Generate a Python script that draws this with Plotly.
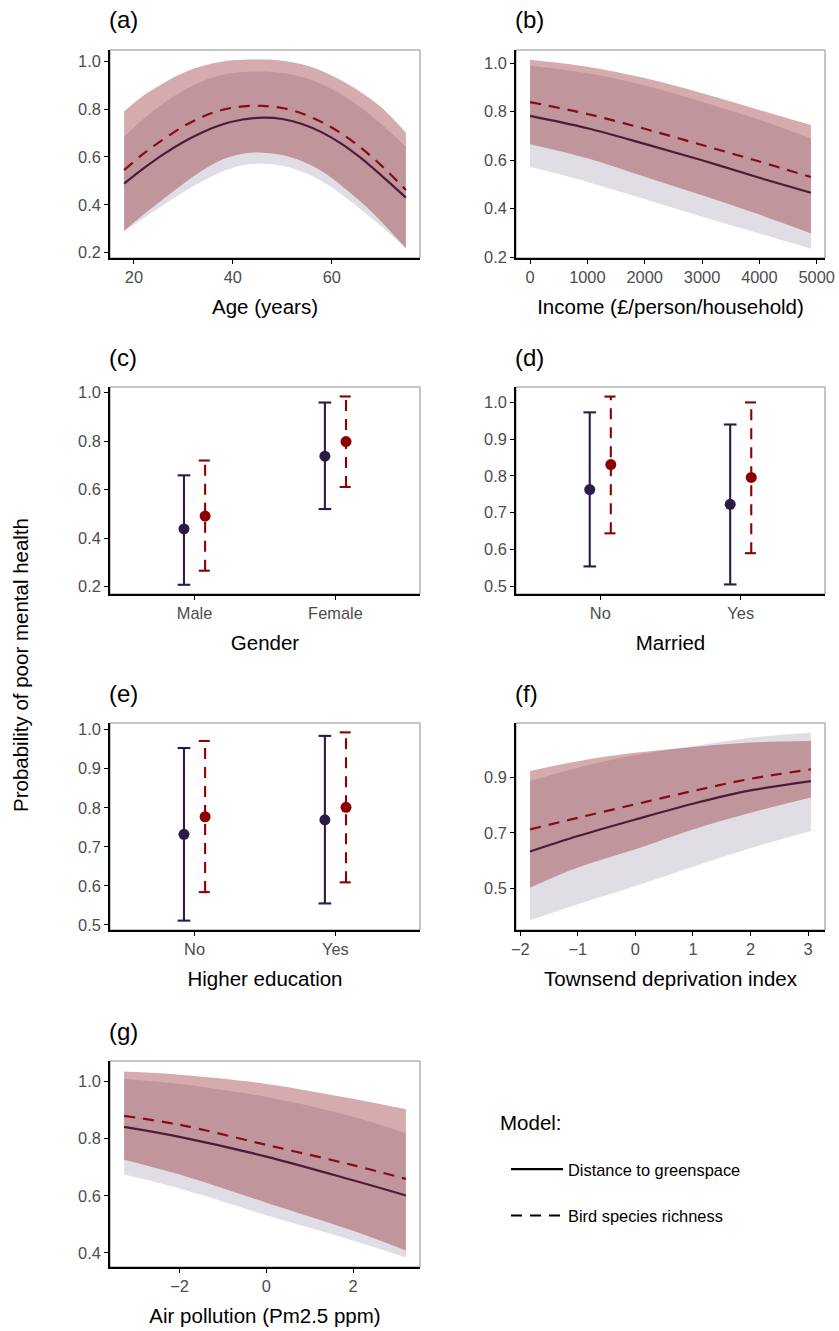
import plotly.graph_objects as go

# ---------------- data ----------------
# (a) Age
age = [18, 22, 26, 30, 34, 38, 42, 46, 50, 54, 58, 62, 66, 70, 75]
age_dist_fit = [0.488, 0.553, 0.612, 0.663, 0.705, 0.737, 0.757, 0.765, 0.759, 0.738, 0.703, 0.655, 0.594, 0.523, 0.430]
age_dist_lo = [0.288, 0.345, 0.400, 0.452, 0.500, 0.540, 0.565, 0.572, 0.563, 0.538, 0.498, 0.443, 0.378, 0.310, 0.218]
age_dist_hi = [0.685, 0.760, 0.825, 0.878, 0.918, 0.944, 0.956, 0.958, 0.952, 0.935, 0.905, 0.862, 0.805, 0.738, 0.642]
age_bird_fit = [0.545, 0.615, 0.675, 0.728, 0.770, 0.798, 0.812, 0.814, 0.805, 0.782, 0.746, 0.698, 0.637, 0.565, 0.462]
age_bird_lo = [0.291, 0.360, 0.425, 0.488, 0.545, 0.590, 0.614, 0.618, 0.608, 0.582, 0.540, 0.480, 0.410, 0.330, 0.218]
age_bird_hi = [0.790, 0.858, 0.910, 0.953, 0.982, 1.000, 1.007, 1.008, 1.003, 0.988, 0.960, 0.920, 0.870, 0.808, 0.702]

# (b) Income
income = [0, 1000, 2000, 3000, 4000, 4900]
inc_dist_fit = [0.782, 0.731, 0.667, 0.599, 0.527, 0.465]
inc_dist_lo = [0.572, 0.510, 0.439, 0.366, 0.297, 0.234]
inc_dist_hi = [0.989, 0.958, 0.908, 0.841, 0.766, 0.690]
inc_bird_fit = [0.839, 0.790, 0.729, 0.662, 0.594, 0.530]
inc_bird_lo = [0.665, 0.607, 0.531, 0.455, 0.375, 0.297]
inc_bird_hi = [1.014, 0.985, 0.938, 0.876, 0.807, 0.745]

# (c) Gender
gender = ["Male", "Female"]
gen_dist_est = [0.438, 0.738]
gen_dist_lo = [0.208, 0.520]
gen_dist_hi = [0.659, 0.959]
gen_bird_est = [0.491, 0.798]
gen_bird_lo = [0.266, 0.611]
gen_bird_hi = [0.720, 0.984]

# (d) Married
married = ["No", "Yes"]
mar_dist_est = [0.763, 0.723]
mar_dist_lo = [0.554, 0.505]
mar_dist_hi = [0.973, 0.940]
mar_bird_est = [0.831, 0.796]
mar_bird_lo = [0.644, 0.590]
mar_bird_hi = [1.016, 1.000]

# (e) Higher education
education = ["No", "Yes"]
edu_dist_est = [0.732, 0.769]
edu_dist_lo = [0.511, 0.555]
edu_dist_hi = [0.953, 0.984]
edu_bird_est = [0.777, 0.801]
edu_bird_lo = [0.584, 0.609]
edu_bird_hi = [0.971, 0.993]

# (f) Townsend deprivation index
tdi = [-1.83, -1, 0, 1, 2, 3.05]
tdi_dist_fit = [0.633, 0.689, 0.749, 0.806, 0.854, 0.888]
tdi_dist_lo = [0.384, 0.442, 0.508, 0.578, 0.645, 0.707]
tdi_dist_hi = [0.888, 0.936, 0.982, 1.014, 1.045, 1.063]
tdi_bird_fit = [0.713, 0.755, 0.804, 0.852, 0.896, 0.930]
tdi_bird_lo = [0.502, 0.575, 0.641, 0.713, 0.773, 0.828]
tdi_bird_hi = [0.924, 0.960, 0.990, 1.011, 1.027, 1.033]

# (g) Air pollution
air = [-3.28, -2, 0, 2, 3.22]
air_dist_fit = [0.841, 0.806, 0.737, 0.654, 0.601]
air_dist_lo = [0.674, 0.625, 0.532, 0.444, 0.384]
air_dist_hi = [1.008, 0.991, 0.945, 0.876, 0.818]
air_bird_fit = [0.879, 0.848, 0.778, 0.707, 0.659]
air_bird_lo = [0.726, 0.674, 0.576, 0.478, 0.409]
air_bird_hi = [1.034, 1.023, 0.991, 0.939, 0.902]

# ---------------- styling ----------------
W, H = 839, 1331
FONT = "Liberation Sans, Arial, sans-serif"
BASE = 20.5          # axis / legend titles
TICK = 16.4          # tick labels, legend entries
TAG = 24             # panel tags
PURPLE = "#2e1a47"
RED = "#8b0000"
LINE_PURPLE = "#4f1a38"
LINE_RED = "#850c12"
BAND_PURPLE = "rgba(46,26,71,0.15)"
BAND_RED = "rgba(139,22,28,0.36)"
DASH = "11px,8px"
DODGE = 0.075
CAP = 0.045

fig = go.Figure()


def px_dom(a, b, total, flip=False):
    if flip:
        return [1 - b / total, 1 - a / total]
    return [a / total, b / total]


cols = {0: (110, 420), 1: (516, 825)}
rows = {0: (50, 258), 1: (387, 594), 2: (723, 930), 3: (1061, 1267)}

panels = [
    dict(i=1, r=0, c=0, tag="(a)", xt="Age (years)", xr=[15.15, 77.85], xtv=[20, 40, 60], xtt=None,
         yr=[0.177, 1.048], ytv=[0.2, 0.4, 0.6, 0.8, 1.0]),
    dict(i=2, r=0, c=1, tag="(b)", xt="Income (£/person/household)", xr=[-245, 5145],
         xtv=[0, 1000, 2000, 3000, 4000, 5000], xtt=None,
         yr=[0.196, 1.054], ytv=[0.2, 0.4, 0.6, 0.8, 1.0]),
    dict(i=3, r=1, c=0, tag="(c)", xt="Gender", xr=[0.4, 2.6], xtv=[1, 2], xtt=gender,
         yr=[0.170, 1.023], ytv=[0.2, 0.4, 0.6, 0.8, 1.0]),
    dict(i=4, r=1, c=1, tag="(d)", xt="Married", xr=[0.4, 2.6], xtv=[1, 2], xtt=married,
         yr=[0.479, 1.042], ytv=[0.5, 0.6, 0.7, 0.8, 0.9, 1.0]),
    dict(i=5, r=2, c=0, tag="(e)", xt="Higher education", xr=[0.4, 2.6], xtv=[1, 2], xtt=education,
         yr=[0.487, 1.017], ytv=[0.5, 0.6, 0.7, 0.8, 0.9, 1.0]),
    dict(i=6, r=2, c=1, tag="(f)", xt="Townsend deprivation index", xr=[-2.074, 3.294],
         xtv=[-2, -1, 0, 1, 2, 3], xtt=None,
         yr=[0.349, 1.098], ytv=[0.5, 0.7, 0.9]),
    dict(i=7, r=3, c=0, tag="(g)", xt="Air pollution (Pm2.5 ppm)", xr=[-3.605, 3.545],
         xtv=[-2, 0, 2], xtt=None,
         yr=[0.351, 1.071], ytv=[0.4, 0.6, 0.8, 1.0]),
]

layout = dict(
    width=W, height=H, margin=dict(l=0, r=0, t=0, b=0),
    paper_bgcolor="white", plot_bgcolor="white",
    font=dict(family=FONT, color="black"),
    showlegend=True,
)
annotations = []
shapes = []

for p in panels:
    i = p["i"]
    sfx = "" if i == 1 else str(i)
    x0, x1 = cols[p["c"]]
    y0, y1 = rows[p["r"]]
    xa = dict(
        domain=px_dom(x0, x1, W), anchor="y" + sfx, range=p["xr"],
        showline=True, linecolor="black", linewidth=1.6, mirror=False,
        ticks="outside", ticklen=4, tickwidth=1.4, tickcolor="black",
        tickfont=dict(size=TICK, color="#4d4d4d", family=FONT),
        tickvals=p["xtv"], showgrid=False, zeroline=False, automargin=False,
        title=dict(text=p["xt"], font=dict(size=BASE, color="black", family=FONT), standoff=14),
    )
    if p["xtt"] is not None:
        xa["ticktext"] = p["xtt"]
    ya = dict(
        domain=px_dom(y0, y1, H, flip=True), anchor="x" + sfx, range=p["yr"],
        showline=True, linecolor="black", linewidth=1.6, mirror=False,
        ticks="outside", ticklen=4, tickwidth=1.4, tickcolor="black",
        tickfont=dict(size=TICK, color="#4d4d4d", family=FONT),
        tickvals=p["ytv"], tickformat=".1f", showgrid=False, zeroline=False, automargin=False,
    )
    layout["xaxis" + sfx] = xa
    layout["yaxis" + sfx] = ya
    shapes.append(dict(type="rect", xref="x" + sfx + " domain", yref="y" + sfx + " domain",
                       x0=0, x1=1, y0=0, y1=1, line=dict(color="#8c8c8c", width=1),
                       fillcolor="rgba(0,0,0,0)", layer="below"))
    annotations.append(dict(text=p["tag"], xref="paper", yref="paper",
                            x=(x0 - 3) / W, y=1 - (y0 - 30) / H, xanchor="left", yanchor="middle",
                            showarrow=False, font=dict(size=TAG, color="black", family=FONT)))


def add_ribbon(ax, x, lo, hi, color):
    xr, yr = "x" + ax, "y" + ax
    fig.add_trace(go.Scatter(x=x, y=lo, xaxis=xr, yaxis=yr, mode="lines",
                             line=dict(width=0, shape="spline", color=color),
                             showlegend=False, hoverinfo="skip"))
    fig.add_trace(go.Scatter(x=x, y=hi, xaxis=xr, yaxis=yr, mode="lines", fill="tonexty",
                             fillcolor=color, line=dict(width=0, shape="spline", color=color),
                             showlegend=False, hoverinfo="skip"))


def add_curve(ax, x, y, color, dash):
    fig.add_trace(go.Scatter(x=x, y=y, xaxis="x" + ax, yaxis="y" + ax, mode="lines",
                             line=dict(color=color, width=2.2, dash=dash, shape="spline"),
                             showlegend=False))


def continuous_panel(ax, x, d_fit, d_lo, d_hi, b_fit, b_lo, b_hi):
    add_ribbon(ax, x, d_lo, d_hi, BAND_PURPLE)
    add_ribbon(ax, x, b_lo, b_hi, BAND_RED)
    add_curve(ax, x, d_fit, LINE_PURPLE, "solid")
    add_curve(ax, x, b_fit, LINE_RED, DASH)


def interval_panel(ax, est, lo, hi, color, offset, dash):
    xs, ys = [], []
    for k in range(len(est)):
        pos = k + 1 + offset
        xs += [pos, pos, None, pos - CAP, pos + CAP, None, pos - CAP, pos + CAP, None]
        ys += [lo[k], hi[k], None, hi[k], hi[k], None, lo[k], lo[k], None]
    fig.add_trace(go.Scatter(x=xs, y=ys, xaxis="x" + ax, yaxis="y" + ax, mode="lines",
                             line=dict(color=color, width=2.1, dash=dash),
                             showlegend=False, hoverinfo="skip"))
    fig.add_trace(go.Scatter(x=[k + 1 + offset for k in range(len(est))], y=est,
                             xaxis="x" + ax, yaxis="y" + ax, mode="markers",
                             marker=dict(color=color, size=11), showlegend=False))


continuous_panel("", age, age_dist_fit, age_dist_lo, age_dist_hi,
                 age_bird_fit, age_bird_lo, age_bird_hi)
continuous_panel("2", income, inc_dist_fit, inc_dist_lo, inc_dist_hi,
                 inc_bird_fit, inc_bird_lo, inc_bird_hi)
interval_panel("3", gen_dist_est, gen_dist_lo, gen_dist_hi, PURPLE, -DODGE, "solid")
interval_panel("3", gen_bird_est, gen_bird_lo, gen_bird_hi, RED, DODGE, DASH)
interval_panel("4", mar_dist_est, mar_dist_lo, mar_dist_hi, PURPLE, -DODGE, "solid")
interval_panel("4", mar_bird_est, mar_bird_lo, mar_bird_hi, RED, DODGE, DASH)
interval_panel("5", edu_dist_est, edu_dist_lo, edu_dist_hi, PURPLE, -DODGE, "solid")
interval_panel("5", edu_bird_est, edu_bird_lo, edu_bird_hi, RED, DODGE, DASH)
continuous_panel("6", tdi, tdi_dist_fit, tdi_dist_lo, tdi_dist_hi,
                 tdi_bird_fit, tdi_bird_lo, tdi_bird_hi)
continuous_panel("7", air, air_dist_fit, air_dist_lo, air_dist_hi,
                 air_bird_fit, air_bird_lo, air_bird_hi)

# legend keys (model line types)
fig.add_trace(go.Scatter(x=[None], y=[None], mode="lines", name="Distance to greenspace",
                         line=dict(color="black", width=2.2), legendgroup="g1"))
fig.add_trace(go.Scatter(x=[None], y=[None], mode="lines", name="Bird species richness",
                         line=dict(color="black", width=2.2, dash=DASH), legendgroup="g2"))

annotations.append(dict(text="Probability of poor mental health", xref="paper", yref="paper",
                        x=20 / W, y=1 - 665 / H, textangle=-90, showarrow=False,
                        xanchor="center", yanchor="middle",
                        font=dict(size=BASE, color="black", family=FONT)))
annotations.append(dict(text="Model:", xref="paper", yref="paper",
                        x=498 / W, y=1 - 1122 / H, xanchor="left", yanchor="middle",
                        showarrow=False, font=dict(size=BASE, color="black", family=FONT)))

layout["annotations"] = annotations
layout["shapes"] = shapes
layout["legend"] = dict(
    x=506 / W, y=1 - 1152 / H, xanchor="left", yanchor="top",
    font=dict(size=TICK, family=FONT, color="black"),
    tracegroupgap=22, itemwidth=52, bgcolor="rgba(0,0,0,0)",
)
fig.update_layout(**layout)

fig.write_html("out.html")
